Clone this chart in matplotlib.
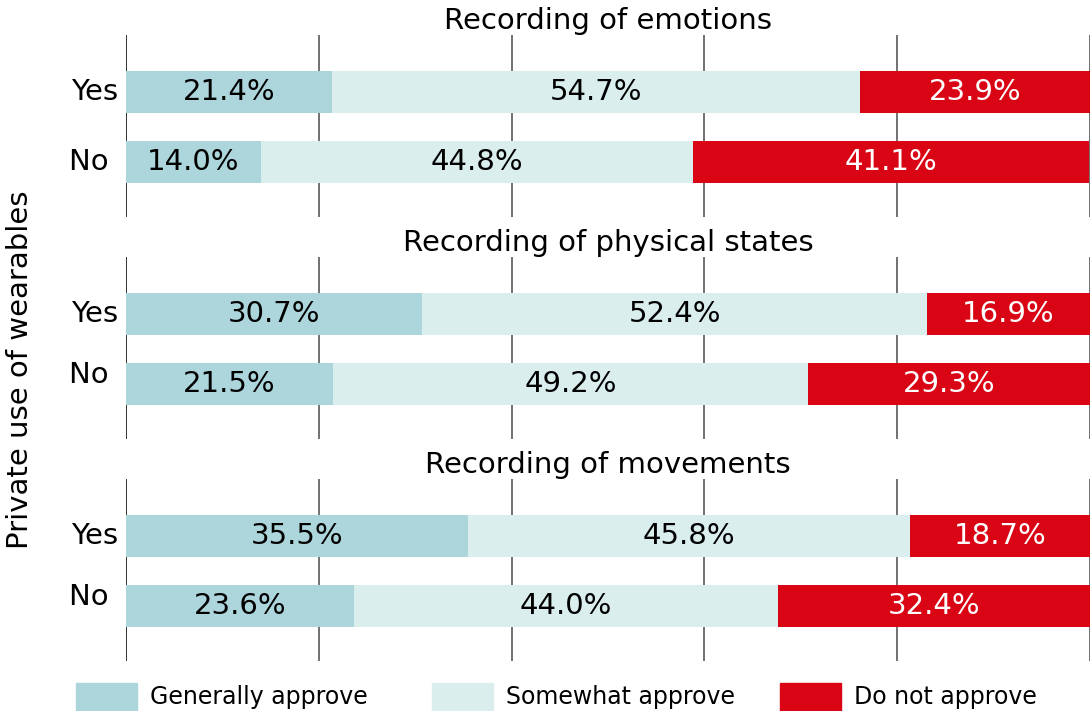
import matplotlib
matplotlib.use('Agg')
import matplotlib.pyplot as plt
from matplotlib.patches import Rectangle
from matplotlib.transforms import offset_copy

# data (percent)
panels = ['Recording of emotions', 'Recording of physical states', 'Recording of movements']
groups = ['Yes', 'No ']
generally = [[21.4, 14.0], [30.7, 21.5], [35.5, 23.6]]
somewhat = [[54.7, 44.8], [52.4, 49.2], [45.8, 44.0]]
notapprove = [[23.9, 41.1], [16.9, 29.3], [18.7, 32.4]]

series_names = ['Generally approve', 'Somewhat approve', 'Do not approve']
colors = ['#acd6dc', '#dbeeee', '#d90514']
text_colors = ['black', 'black', 'white']

plt.rcParams['font.family'] = ['DejaVu Sans']
FS = 21

fig = plt.figure(figsize=(10.92, 7.11), dpi=100)
W, H = 1092, 711
left, right = 126 / W, 1090 / W
tops = [35, 257, 479]
heights = 182

ypos = [1, 0]
for p in range(3):
    ax = fig.add_axes([left, 1 - (tops[p] + heights) / H, right - left, heights / H])
    series = [generally[p], somewhat[p], notapprove[p]]
    starts = [0, 0]
    for s in range(3):
        vals = series[s]
        bars = ax.barh(ypos, vals, left=starts, height=0.6, color=colors[s], zorder=2)
        for b, v in zip(bars, vals):
            ax.text(b.get_x() + b.get_width() / 2, b.get_y() + b.get_height() / 2,
                    '%.1f%%' % v, ha='center', va='center', fontsize=FS,
                    color=text_colors[s], zorder=3)
        starts = [a + v for a, v in zip(starts, vals)]
    for x in range(0, 101, 20):
        ax.axvline(x, color='#222222' if x == 0 else '#666666', lw=1.3, zorder=1)
    ax.set_xlim(0, 100)
    ax.set_ylim(-0.786, 1.814)
    ax.set_yticks([])
    ax.set_xticks([])
    for sp in ax.spines.values():
        sp.set_visible(False)
    ax.set_title(panels[p], fontsize=FS, pad=4)

    # group labels; the "No" ones sit a bit high in the lower panels
    tr = offset_copy(ax.get_yaxis_transform(), fig=fig, x=-8, y=0, units='dots')
    for g, y in zip(groups, ypos):
        dy = 0.13 if (p > 0 and y == 0) else 0
        ax.text(0, y + dy, g, transform=tr, ha='right', va='center', fontsize=FS)

fig.text(20 / W, 1 - 370 / H, 'Private use of wearables', rotation=90,
         ha='center', va='center', fontsize=FS)

# legend
leg_x = [76, 432, 780]
for i in range(3):
    fig.patches.append(Rectangle((leg_x[i] / W, 0), 61 / W, 28 / H,
                                 transform=fig.transFigure, color=colors[i]))
    fig.text((leg_x[i] + 74) / W, 1 - 697 / H, series_names[i],
             ha='left', va='center', fontsize=17)

fig.savefig('out.png', dpi=100)
